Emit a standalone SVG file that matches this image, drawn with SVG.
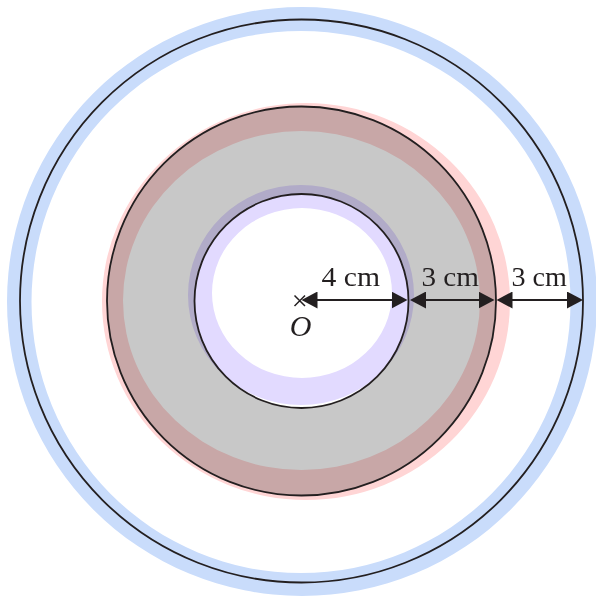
<svg xmlns="http://www.w3.org/2000/svg" width="596" height="601" viewBox="0 0 596 601">
  <style>
    .ring { fill: none; stroke: #231f20; stroke-width: 1.8; }
    .hl { mix-blend-mode: multiply; fill-rule: evenodd; }
    .dim { stroke: #231f20; stroke-width: 2; fill: none; marker-start: url(#ah); marker-end: url(#ah); }
    .lbl { font-family: "Liberation Serif", "Times New Roman", serif; font-size: 27px; fill: #231f20; }
    .pt { font-family: "Liberation Serif", "Times New Roman", serif; font-size: 30px; font-style: italic; fill: #231f20; }
  </style>
  <defs>
    <marker id="ah" viewBox="0 0 16 17" refX="8" refY="8.5" markerWidth="16" markerHeight="17" markerUnits="userSpaceOnUse" orient="auto-start-reverse">
      <path d="M0,0 L16,8.5 L0,17 Z" fill="#231f20"/>
    </marker>
  </defs>
  <rect width="596" height="601" fill="#ffffff"/>

  <g id="outer-ring">
    <path class="hl" fill="#c9dcfb" d="M7,301.5 a295,294.5 0 1,0 590,0 a295,294.5 0 1,0 -590,0 Z M31.5,302 a269.5,271 0 1,0 539,0 a269.5,271 0 1,0 -539,0 Z"/>
    <circle class="ring" cx="301.5" cy="301" r="281.5"/>
  </g>

  <g id="middle-ring">
    <path fill="#c8c8c8" fill-rule="evenodd" d="M107,301 a194.5,194.5 0 1,0 389,0 a194.5,194.5 0 1,0 -389,0 Z M194.5,301 a107,107 0 1,0 214,0 a107,107 0 1,0 -214,0 Z"/>
    <path class="hl" fill="#ffd5d5" d="M102,301.5 a204,198.5 0 1,0 408,0 a204,198.5 0 1,0 -408,0 Z M123,300.5 a178.5,169.5 0 1,0 357,0 a178.5,169.5 0 1,0 -357,0 Z"/>
    <circle class="ring" cx="301.5" cy="301" r="194.5"/>
  </g>

  <g id="inner-ring">
    <path class="hl" fill="#e2daff" d="M188,295 a113,110 0 1,0 226,0 a113,110 0 1,0 -226,0 Z M212,293 a90,85 0 1,0 180,0 a90,85 0 1,0 -180,0 Z"/>
    <circle class="ring" cx="301.5" cy="301" r="107"/>
  </g>

  <g id="centre-O">
    <path d="M294.5,295.5 L305,306 M305,295.5 L294.5,306" stroke="#231f20" stroke-width="1.5"/>
    <text class="pt" x="300.5" y="335.5" text-anchor="middle">O</text>
  </g>

  <g id="connectors">
    <line class="dim" x1="309.5" y1="300" x2="399.5" y2="300"/>
    <line class="dim" x1="418" y1="300" x2="486.5" y2="300"/>
    <line class="dim" x1="504.5" y1="300" x2="575" y2="300"/>
  </g>

  <g id="labels">
    <text class="lbl" x="321.5" y="286" textLength="58.5" lengthAdjust="spacingAndGlyphs">4 cm</text>
    <text class="lbl" x="421.5" y="286" textLength="57.5" lengthAdjust="spacingAndGlyphs">3 cm</text>
    <text class="lbl" x="511.5" y="286" textLength="55.5" lengthAdjust="spacingAndGlyphs">3 cm</text>
  </g>
</svg>
